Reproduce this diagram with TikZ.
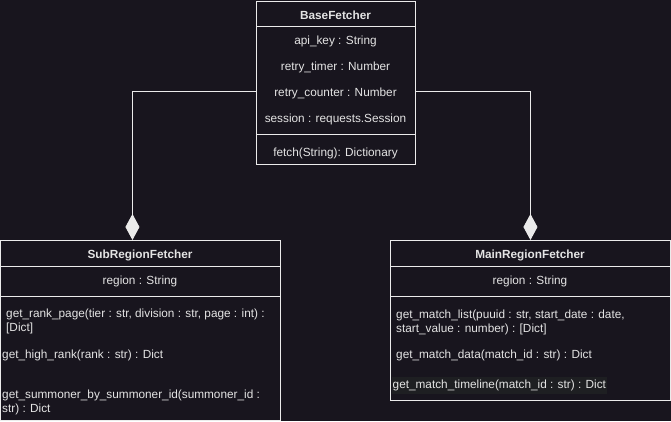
\documentclass[tikz,border=0pt]{standalone}
\usepackage{fontspec}
\setmainfont{Liberation Sans}
\usetikzlibrary{arrows.meta}
\definecolor{bgc}{RGB}{24,21,30}
\definecolor{linec}{RGB}{235,235,235}
\definecolor{txtc}{RGB}{228,228,228}
\definecolor{hlc}{RGB}{30,31,34}
\begin{document}
\begin{tikzpicture}[x=1pt,y=-1pt,
  box/.style={draw=linec,line width=0.9pt,inner sep=0pt,anchor=north west},
  sep/.style={draw=linec,line width=0.9pt},
  ctext/.style={text=txtc,font=\fontsize{11.8}{13}\selectfont,inner sep=0pt},
  ttext/.style={text=txtc,font=\fontsize{11.8}{13}\selectfont\bfseries,inner sep=0pt},
  ltext/.style={text=txtc,font=\fontsize{11.8}{14}\selectfont,inner sep=0pt,anchor=west,align=left},
  conn/.style={draw=linec,line width=0.9pt,-{Diamond[length=26pt,width=14pt,fill=linec,color=linec]}}
]
\fill[bgc] (0,0) rectangle (671,421);
\useasboundingbox (0,0) rectangle (671,421);

% BaseFetcher
\node[box,minimum width=159pt,minimum height=163pt] (base) at (256,1) {};
\draw[sep] (256,26) -- (415,26);
\draw[sep] (256,134) -- (415,134);
\node[ttext] (bt) at (335.5,15.5) {BaseFetcher};
\node[ctext] (b1) at (335.5,41.5) {api\_key : String};
\node[ctext] (b2) at (335.5,67.5) {retry\_timer : Number};
\node[ctext] (b3) at (335.5,93.5) {retry\_counter : Number};
\node[ctext] (b4) at (335.5,119.5) {session : requests.Session};
\node[ctext] (b5) at (335.5,153.5) {fetch(String): Dictionary};

% SubRegionFetcher
\node[box,minimum width=280pt,minimum height=180pt] (sub) at (0,240) {};
\draw[sep] (0,266) -- (280,266);
\draw[sep] (0,296) -- (280,296);
\node[ttext] (st) at (140,255.5) {SubRegionFetcher};
\node[ctext] (s1) at (140,281.5) {region : String};
\node[ltext] (s2) at (6,321.5) {get\_rank\_page(tier : str, division : str, page : int) :\\{}[Dict]};
\node[ltext] (s3) at (2,355.5) {get\_high\_rank(rank : str) : Dict};
\node[ltext] (s4) at (2,402) {get\_summoner\_by\_summoner\_id(summoner\_id :\\str) : Dict};

% MainRegionFetcher
\node[box,minimum width=280pt,minimum height=160pt] (main) at (390,240) {};
\draw[sep] (390,266) -- (670,266);
\draw[sep] (390,296) -- (670,296);
\node[ttext] (mt) at (530,255.5) {MainRegionFetcher};
\node[ctext] (m1) at (530,281.5) {region : String};
\node[ltext] (m2) at (396,322) {get\_match\_list(puuid : str, start\_date : date,\\start\_value : number) : [Dict]};
\node[ltext] (m3) at (396,355.5) {get\_match\_data(match\_id : str) : Dict};
\node[ltext,fill=hlc,inner ysep=3pt,inner xsep=0.5pt] (m4) at (392,385) {get\_match\_timeline(match\_id : str) : Dict};

% connectors
\coordinate (bl) at (256,91);
\coordinate (br) at (415,91);
\draw[conn] (bl) -| ([xshift=-8pt]sub.north);
\draw[conn] (br) -| (main.north);
\end{tikzpicture}
\end{document}
